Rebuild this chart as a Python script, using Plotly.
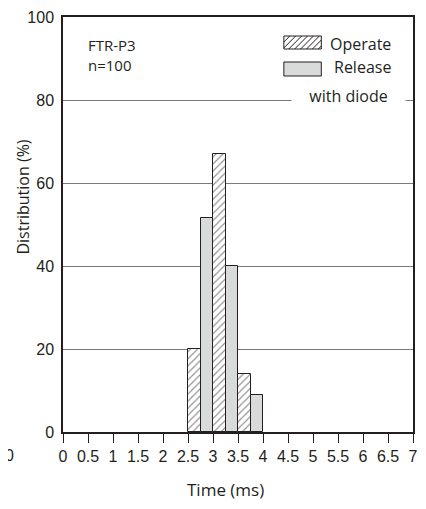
import plotly.graph_objects as go

# ---- data ----
operate_start = [2.5, 3.0, 3.5]
operate_pct = [20, 67, 14]
release_start = [2.75, 3.25, 3.75]
release_pct = [51.5, 40, 9]
bin_width = 0.25
x_ticks = [0, 0.5, 1, 1.5, 2, 2.5, 3, 3.5, 4, 4.5, 5, 5.5, 6, 6.5, 7]
x_tick_labels = ["0", "0.5", "1", "1.5", "2", "2.5", "3", "3.5", "4", "4.5", "5", "5.5", "6", "6.5", "7"]
y_ticks = [0, 20, 40, 60, 80, 100]

OFF = 8  # default page body margin
W, H = 426 - 2 * OFF, 509 - 2 * OFF
L, R, T = 63 - OFF, 0, 17 - OFF
PW = W - L - R
PH = 415
B = H - T - PH
INK = "#231f20"
TXT_FONT = "Open Sans"
NUM_FONT = "Liberation Sans"


def px(x):
    return (x - OFF - L) / PW


def py(y):
    return (T + PH - (y - OFF)) / PH


fig = go.Figure()
fig.add_trace(go.Bar(
    x=operate_start, y=operate_pct, width=bin_width, offset=0, name="Operate",
    marker=dict(color="white", line=dict(color=INK, width=1),
                pattern=dict(shape="/", fgcolor=INK, bgcolor="white", size=5, solidity=0.22)),
    showlegend=False,
))
fig.add_trace(go.Bar(
    x=release_start, y=release_pct, width=bin_width, offset=0, name="Release",
    marker=dict(color="#d9dbdb", line=dict(color=INK, width=1)),
    showlegend=False,
))

shapes = []
# legend swatches (decorative)
ox0, ox1, oy0, oy1 = 287, 325, 36, 49
shapes.append(dict(type="rect", xref="paper", yref="paper", x0=px(ox0), x1=px(ox1), y0=py(oy1), y1=py(oy0),
                   line=dict(color=INK, width=1), fillcolor="white", layer="above"))
h = oy1 - oy0
s = 6.0
c = ox0 - h
while c < ox1:
    sx, sy = c, oy1
    ex, ey = c + h, oy0
    if sx < ox0:
        sy = oy1 - (ox0 - c)
        sx = ox0
    if ex > ox1:
        ey = oy1 - (ox1 - c)
        ex = ox1
    if ex > sx + 0.5:
        shapes.append(dict(type="line", xref="paper", yref="paper", x0=px(sx), y0=py(sy), x1=px(ex), y1=py(ey),
                           line=dict(color=INK, width=1), layer="above"))
    c += s
rx0, rx1, ry0, ry1 = 287, 325, 62, 76
shapes.append(dict(type="rect", xref="paper", yref="paper", x0=px(rx0), x1=px(rx1), y0=py(ry1), y1=py(ry0),
                   line=dict(color=INK, width=1), fillcolor="#d9dbdb", layer="above"))

annotations = [
    dict(text="FTR-P3<br>n=100", xref="paper", yref="paper", x=px(86), y=py(33), xanchor="left", yanchor="top",
         align="left", showarrow=False, font=dict(family=TXT_FONT, size=15, color=INK)),
    dict(text="Operate", xref="paper", yref="paper", x=px(398), y=py(44), xanchor="right", yanchor="middle",
         showarrow=False, font=dict(family=TXT_FONT, size=16, color=INK)),
    dict(text="Release", xref="paper", yref="paper", x=px(398), y=py(67), xanchor="right", yanchor="middle",
         showarrow=False, font=dict(family=TXT_FONT, size=16, color=INK)),
    dict(text="with diode", xref="paper", yref="y", x=px(352.5), y=80, xanchor="center", yanchor="middle",
         yshift=4, width=111, height=22, bgcolor="white", showarrow=False,
         font=dict(family=TXT_FONT, size=16, color=INK)),
    dict(text="Distribution (%)", xref="paper", yref="paper", x=px(22), y=py(197), textangle=-90,
         xanchor="center", yanchor="middle", showarrow=False, font=dict(family=TXT_FONT, size=16, color=INK)),
    dict(text="Time (ms)", xref="paper", yref="paper", x=px(228), y=py(489), xanchor="center", yanchor="middle",
         showarrow=False, font=dict(family=TXT_FONT, size=17, color=INK)),
    dict(text="0", xref="paper", yref="paper", x=px(9), y=py(455), xanchor="center", yanchor="middle",
         showarrow=False, font=dict(family=NUM_FONT, size=16, color=INK)),
]

fig.update_layout(
    width=W, height=H, margin=dict(l=L, r=R, t=T, b=B, pad=0),
    paper_bgcolor="white", plot_bgcolor="white",
    barmode="overlay", bargap=0,
    shapes=shapes, annotations=annotations,
    xaxis=dict(range=[0, 7], tickvals=x_ticks, ticktext=x_tick_labels, ticks="outside", ticklen=9,
               tickcolor=INK, tickwidth=1, showline=True, linecolor=INK, linewidth=1.5, mirror=True,
               showgrid=False, zeroline=False, ticklabeloverflow="allow",
               tickfont=dict(family=NUM_FONT, size=16, color=INK)),
    yaxis=dict(range=[0, 100], tickvals=y_ticks, ticks="", showline=True, linecolor=INK, linewidth=1.5,
               mirror=True, showgrid=True, gridcolor="#7a7a7a", gridwidth=1, zeroline=False,
               ticklabelstandoff=4,
               tickfont=dict(family=NUM_FONT, size=16, color=INK)),
)

fig.write_html("out.html")
